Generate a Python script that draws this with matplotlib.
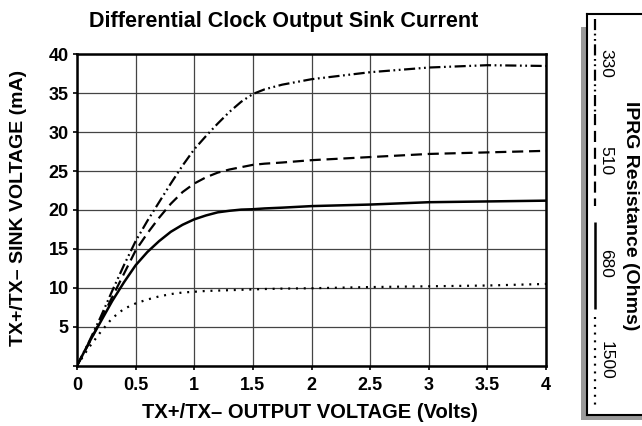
import matplotlib
matplotlib.use("Agg")
import matplotlib.pyplot as plt
from matplotlib.patches import Rectangle

plt.rcParams['font.family'] = ['Liberation Sans', 'DejaVu Sans']
plt.rcParams['font.weight'] = 'bold'

# ---- data ----
volts = [0, 0.1, 0.2, 0.3, 0.4, 0.5, 0.6, 0.7, 0.8, 0.9, 1.0, 1.1, 1.2, 1.3, 1.4, 1.5,
         1.6, 1.75, 2.0, 2.5, 3.0, 3.5, 4.0]
r330 = [0, 3.0, 6.2, 9.6, 12.9, 16.0, 18.6, 21.0, 23.4, 25.7, 27.8, 29.5, 31.1, 32.6, 33.9, 34.9,
        35.5, 36.1, 36.8, 37.7, 38.3, 38.6, 38.5]
r510 = [0, 2.8, 5.8, 8.8, 11.8, 14.8, 17.0, 19.0, 20.8, 22.3, 23.4, 24.2, 24.8, 25.2, 25.5, 25.8,
        25.95, 26.1, 26.4, 26.8, 27.2, 27.4, 27.6]
r680 = [0, 2.9, 5.6, 8.3, 10.7, 12.9, 14.6, 16.0, 17.2, 18.1, 18.8, 19.3, 19.7, 19.9, 20.05, 20.1,
        20.2, 20.3, 20.5, 20.7, 21.0, 21.1, 21.2]
r1500 = [0, 2.3, 4.3, 6.1, 7.3, 8.0, 8.5, 8.9, 9.2, 9.4, 9.5, 9.6, 9.65, 9.7, 9.75, 9.8,
         9.85, 9.9, 9.95, 10.1, 10.2, 10.3, 10.5]
legend_labels = ["330", "510", "680", "1500"]
xticks = [0, 0.5, 1, 1.5, 2, 2.5, 3, 3.5, 4]
xticklabels = ["0", "0.5", "1", "1.5", "2", "2.5", "3", "3.5", "4"]
yticks = [0, 5, 10, 15, 20, 25, 30, 35, 40]
yticklabels = ["", "5", "10", "15", "20", "25", "30", "35", "40"]

W, H = 642, 426
fig = plt.figure(figsize=(W / 100, H / 100), dpi=100)

def fx(px):
    return px / W

def fy(py):
    return 1 - py / H

ax = fig.add_axes([fx(77), fy(365.7), fx(546) - fx(77), fy(54.3) - fy(365.7)])

styles = [
    dict(ls=(0, (5, 1.6, 0.8, 1.6, 0.8, 1.6)), lw=1.6),
    dict(ls=(0, (5, 2.6)), lw=1.6),
    dict(ls='-', lw=1.8),
    dict(ls=(0, (0.9, 2.6)), lw=1.6),
]
series = [r330, r510, r680, r1500]
for ys, st in zip(series, styles):
    ax.plot(volts, ys, color='black', linestyle=st['ls'], linewidth=st['lw'],
            solid_capstyle='butt', dash_capstyle='butt', solid_joinstyle='round')

ax.set_xlim(0, 4)
ax.set_ylim(0, 40)
ax.set_xticks(xticks)
ax.set_xticklabels(xticklabels)
ax.set_yticks(yticks)
ax.set_yticklabels(yticklabels)
ax.grid(True, color='#444444', linewidth=0.9)
ax.set_axisbelow(True)
for s in ax.spines.values():
    s.set_linewidth(1.8)
    s.set_color('black')
ax.tick_params(direction='out', length=3, width=1.2, labelsize=13)
ax.tick_params(axis='x', pad=5)
ax.tick_params(axis='y', pad=3)
for lab in ax.get_xticklabels() + ax.get_yticklabels():
    lab.set_fontweight('bold')

fig.text(fx(310), fy(413), "TX+/TX– OUTPUT VOLTAGE (Volts)", fontsize=14.5,
         fontweight='bold', ha='center', va='center')
fig.text(fx(19), fy(208), "TX+/TX– SINK VOLTAGE (mA)", fontsize=14, rotation=90,
         fontweight='bold', ha='center', va='center')
fig.text(fx(284), fy(21), "Differential Clock Output Sink Current", fontsize=15.5,
         fontweight='bold', ha='center', va='center')

# ---- legend panel ----
shadow = Rectangle((fx(581), fy(420)), fx(700) - fx(581), fy(27) - fy(420),
                   transform=fig.transFigure, facecolor='#9a9a9a', edgecolor='none', zorder=0)
fig.patches.append(shadow)

lax = fig.add_axes([fx(587), fy(415), fx(700) - fx(587), fy(14) - fy(415)], zorder=2)
lax.set_xlim(587, 700)
lax.set_ylim(415, 14)
lax.set_facecolor('white')
lax.set_xticks([])
lax.set_yticks([])
for s in lax.spines.values():
    s.set_linewidth(1.5)
    s.set_color('black')

seg_y = [(19, 112), (114, 206), (222, 309), (317, 406)]
lab_y = [63, 161, 263, 360]
for (y0, y1), ly, lab, st in zip(seg_y, lab_y, legend_labels, styles):
    lax.plot([595, 595], [y0, y1], color='black', linestyle=st['ls'], linewidth=st['lw'],
             solid_capstyle='butt', dash_capstyle='butt')
    lax.text(606, ly, lab, rotation=-90, ha='center', va='center', fontsize=12.5,
             fontweight='normal')
lax.text(631, 216, "IPRG Resistance (Ohms)", rotation=-90, ha='center', va='center',
         fontsize=14, fontweight='bold')

fig.savefig("out.png", dpi=100)
